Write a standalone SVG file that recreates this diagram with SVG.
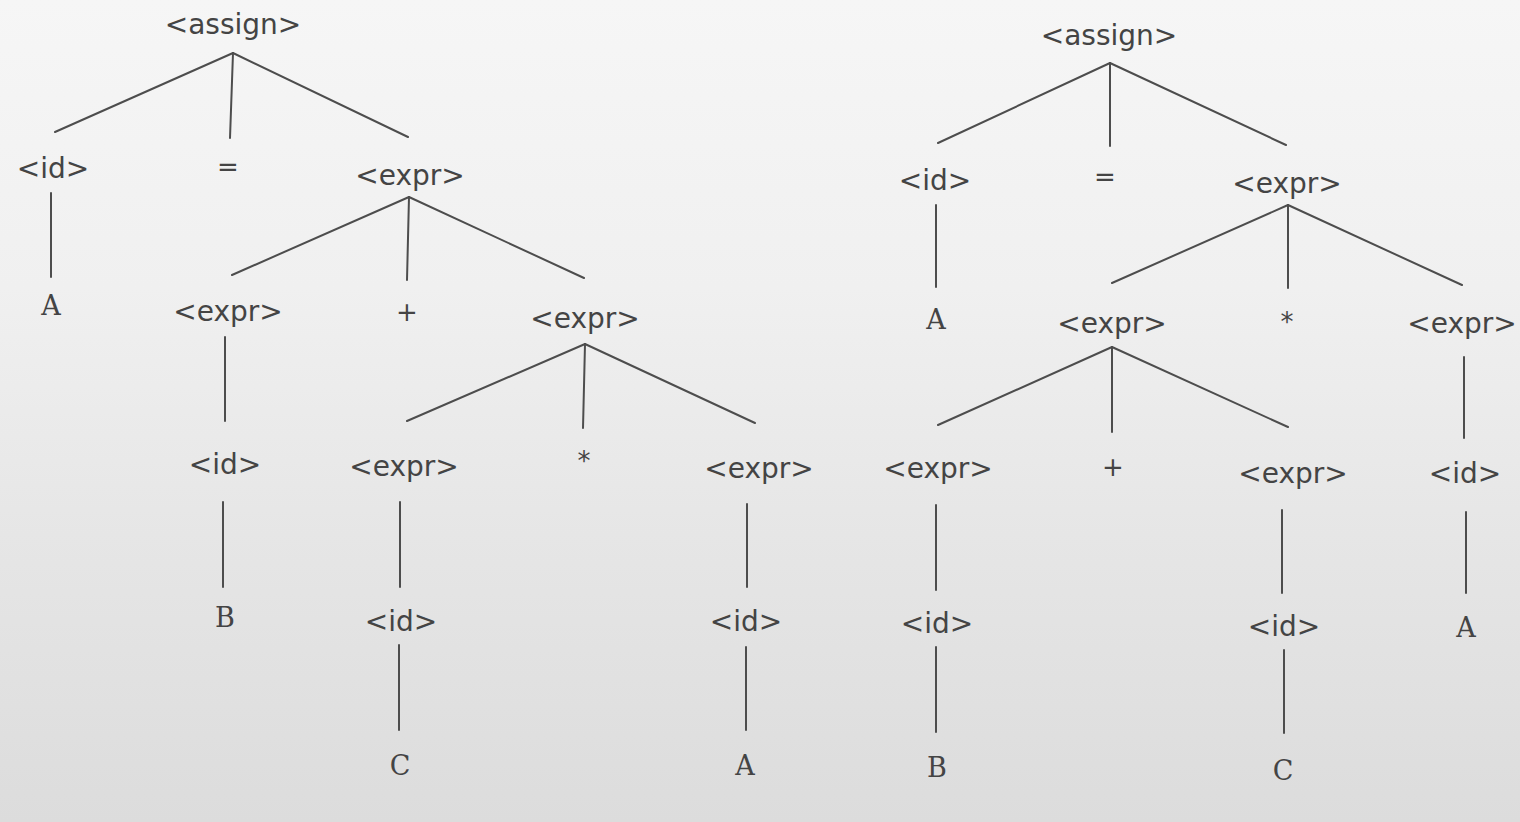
<svg xmlns="http://www.w3.org/2000/svg" width="1520" height="822" viewBox="0 0 1520 822">
<defs>
<linearGradient id="paper" x1="0" y1="0" x2="0" y2="1">
<stop offset="0" stop-color="#f6f6f6"/>
<stop offset="0.35" stop-color="#f0f0f0"/>
<stop offset="0.65" stop-color="#e6e6e6"/>
<stop offset="1" stop-color="#dcdcdc"/>
</linearGradient>
<style>
.nt{font-family:"DejaVu Sans","Noto Sans",sans-serif;font-size:28px;fill:#444;text-anchor:middle}
.op{font-family:"DejaVu Sans","Noto Sans",sans-serif;font-size:26px;fill:#444;text-anchor:middle}
.tm{font-family:"DejaVu Serif","Liberation Serif",serif;font-size:27px;fill:#444;text-anchor:middle}
.edges line{stroke:#4d4d4d;stroke-width:2;stroke-linecap:round}
</style>
</defs>
<rect width="1520" height="822" fill="url(#paper)"/>

<g id="connectors" class="edges">
<!-- left tree -->
<line x1="233" y1="53" x2="55" y2="132"/>
<line x1="233" y1="53" x2="230" y2="138"/>
<line x1="233" y1="53" x2="408" y2="137"/>
<line x1="51" y1="193" x2="51" y2="277"/>
<line x1="409" y1="197" x2="232" y2="275"/>
<line x1="409" y1="197" x2="407" y2="280"/>
<line x1="409" y1="197" x2="584" y2="278"/>
<line x1="225" y1="337" x2="225" y2="421"/>
<line x1="585" y1="344" x2="407" y2="421"/>
<line x1="585" y1="344" x2="583" y2="428"/>
<line x1="585" y1="344" x2="755" y2="423"/>
<line x1="223" y1="502" x2="223" y2="587"/>
<line x1="400" y1="502" x2="400" y2="587"/>
<line x1="747" y1="504" x2="747" y2="587"/>
<line x1="399" y1="645" x2="399" y2="730"/>
<line x1="746" y1="647" x2="746" y2="730"/>
<!-- right tree -->
<line x1="1110" y1="63" x2="938" y2="143"/>
<line x1="1110" y1="63" x2="1110" y2="146"/>
<line x1="1110" y1="63" x2="1286" y2="145"/>
<line x1="936" y1="205" x2="936" y2="287"/>
<line x1="1288" y1="205" x2="1112" y2="283"/>
<line x1="1288" y1="205" x2="1288" y2="288"/>
<line x1="1288" y1="205" x2="1462" y2="285"/>
<line x1="1112" y1="347" x2="938" y2="425"/>
<line x1="1112" y1="347" x2="1112" y2="432"/>
<line x1="1112" y1="347" x2="1288" y2="427"/>
<line x1="1464" y1="357" x2="1464" y2="438"/>
<line x1="936" y1="505" x2="936" y2="590"/>
<line x1="1282" y1="510" x2="1282" y2="593"/>
<line x1="1466" y1="512" x2="1466" y2="593"/>
<line x1="936" y1="647" x2="936" y2="732"/>
<line x1="1284" y1="650" x2="1284" y2="733"/>
</g>

<!-- left tree nodes -->
<g id="L-assign"><text class="nt" x="233" y="34">&lt;assign&gt;</text></g>
<g id="L-id1"><text class="nt" x="53" y="178">&lt;id&gt;</text></g>
<g id="L-eq"><text class="op" x="228" y="176">=</text></g>
<g id="L-expr1"><text class="nt" x="410" y="185">&lt;expr&gt;</text></g>
<g id="L-A1"><text class="tm" x="51" y="315">A</text></g>
<g id="L-expr2"><text class="nt" x="228" y="321">&lt;expr&gt;</text></g>
<g id="L-plus"><text class="op" x="407" y="321">+</text></g>
<g id="L-expr3"><text class="nt" x="585" y="328">&lt;expr&gt;</text></g>
<g id="L-id2"><text class="nt" x="225" y="474">&lt;id&gt;</text></g>
<g id="L-expr4"><text class="nt" x="404" y="476">&lt;expr&gt;</text></g>
<g id="L-star"><text class="op" x="584" y="470">*</text></g>
<g id="L-expr5"><text class="nt" x="759" y="478">&lt;expr&gt;</text></g>
<g id="L-B"><text class="tm" x="225" y="627">B</text></g>
<g id="L-id3"><text class="nt" x="401" y="631">&lt;id&gt;</text></g>
<g id="L-id4"><text class="nt" x="746" y="631">&lt;id&gt;</text></g>
<g id="L-C"><text class="tm" x="400" y="775">C</text></g>
<g id="L-A2"><text class="tm" x="745" y="775">A</text></g>

<!-- right tree nodes -->
<g id="R-assign"><text class="nt" x="1109" y="45">&lt;assign&gt;</text></g>
<g id="R-id1"><text class="nt" x="935" y="190">&lt;id&gt;</text></g>
<g id="R-eq"><text class="op" x="1105" y="186">=</text></g>
<g id="R-expr1"><text class="nt" x="1287" y="193">&lt;expr&gt;</text></g>
<g id="R-A1"><text class="tm" x="936" y="329">A</text></g>
<g id="R-expr2"><text class="nt" x="1112" y="333">&lt;expr&gt;</text></g>
<g id="R-star"><text class="op" x="1287" y="331">*</text></g>
<g id="R-expr3"><text class="nt" x="1462" y="333">&lt;expr&gt;</text></g>
<g id="R-expr4"><text class="nt" x="938" y="478">&lt;expr&gt;</text></g>
<g id="R-plus"><text class="op" x="1113" y="476">+</text></g>
<g id="R-expr5"><text class="nt" x="1293" y="483">&lt;expr&gt;</text></g>
<g id="R-id2"><text class="nt" x="1465" y="483">&lt;id&gt;</text></g>
<g id="R-id3"><text class="nt" x="937" y="633">&lt;id&gt;</text></g>
<g id="R-id4"><text class="nt" x="1284" y="636">&lt;id&gt;</text></g>
<g id="R-A2"><text class="tm" x="1466" y="637">A</text></g>
<g id="R-B"><text class="tm" x="937" y="777">B</text></g>
<g id="R-C"><text class="tm" x="1283" y="780">C</text></g>
</svg>
